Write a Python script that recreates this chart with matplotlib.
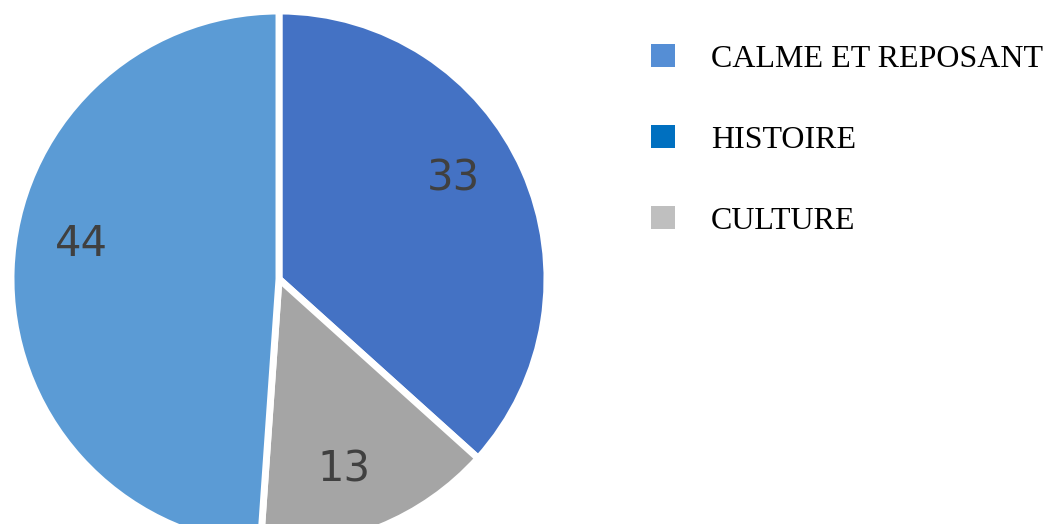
import matplotlib
matplotlib.use("Agg")
import numpy as np
import matplotlib.pyplot as plt
from matplotlib.patches import Patch

# Data (order: clockwise from 12 o'clock)
labels = ["HISTOIRE", "CULTURE", "CALME ET REPOSANT"]
values = [33, 13, 44]
slice_colors = ["#4472C4", "#A5A5A5", "#5B9BD5"]

# legend order and its own square colours, as in the reference
legend_labels = ["CALME ET REPOSANT", "HISTOIRE", "CULTURE"]
legend_colors = ["#558ED5", "#0070C0", "#BFBFBF"]

# where the value labels sit (degrees, fraction of radius), like Excel's best fit
label_angles = [30, -71, 170]
label_dist = 0.75

W, H = 1046, 524
cx, cy, r = 279, H - 279, 268
fig = plt.figure(figsize=(W / 100, H / 100), dpi=100)
ax = fig.add_axes([0, 0, 1, 1])

wedges, texts = ax.pie(
    values,
    colors=slice_colors,
    startangle=90,
    counterclock=False,
    center=(cx, cy),
    radius=r,
    wedgeprops=dict(edgecolor="white", linewidth=5),
    frame=False,
)

# value labels inside the slices
for v, a in zip(values, label_angles):
    t = np.deg2rad(a)
    ax.text(cx + label_dist * r * np.cos(t), cy + label_dist * r * np.sin(t), str(v),
            ha="center", va="center", color="#404040", fontsize=30, family="DejaVu Sans")

ax.set_xlim(0, W)
ax.set_ylim(0, H)
ax.set_aspect("equal")
ax.axis("off")

handles = [Patch(facecolor=c, edgecolor="none") for c in legend_colors]
ax.legend(
    handles, legend_labels,
    loc="upper left",
    bbox_to_anchor=(651 / W, 1 - 44 / H),
    bbox_transform=fig.transFigure,
    frameon=False,
    prop=dict(family="Liberation Serif", size=23),
    handlelength=0.75,
    handleheight=0.75,
    handletextpad=1.12,
    labelspacing=1.6,
    borderpad=0,
    borderaxespad=0,
)

fig.savefig("out.png", dpi=100)
